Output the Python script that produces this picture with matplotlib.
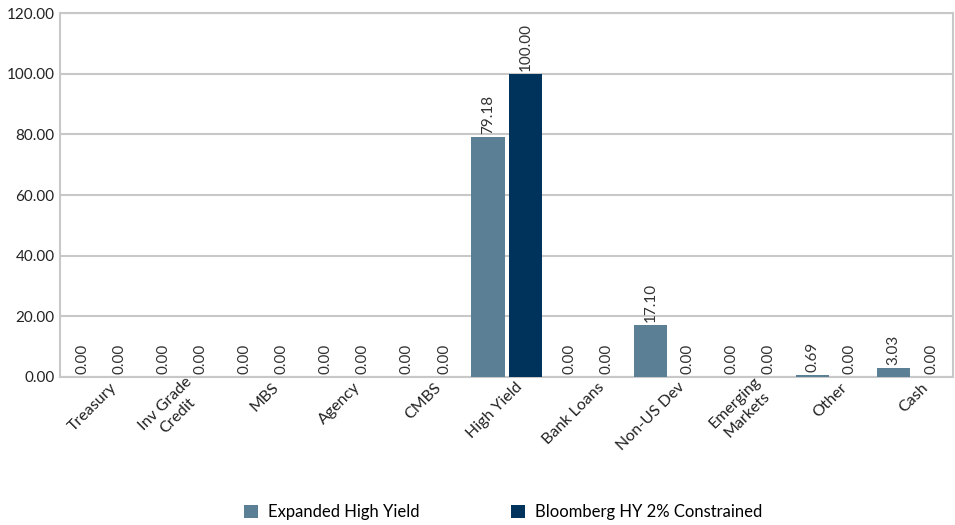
import numpy as np
import matplotlib
matplotlib.use("Agg")
import matplotlib.pyplot as plt
import matplotlib.transforms as mtransforms
from matplotlib.ticker import FormatStrFormatter

plt.rcParams["font.family"] = ["Lato", "DejaVu Sans"]

# data
categories = ["Treasury", "Inv Grade\nCredit", "MBS", "Agency", "CMBS", "High Yield",
              "Bank Loans", "Non-US Dev", "Emerging\nMarkets", "Other", "Cash"]
expanded_hy = [0.00, 0.00, 0.00, 0.00, 0.00, 79.18, 0.00, 17.10, 0.00, 0.69, 3.03]
bbg_hy = [0.00, 0.00, 0.00, 0.00, 0.00, 100.00, 0.00, 0.00, 0.00, 0.00, 0.00]
series_names = ["Expanded High Yield", "Bloomberg HY 2% Constrained"]
colors = ["#5B7F95", "#00335B"]

fig = plt.figure(figsize=(9.55, 5.25), dpi=100)
ax = fig.add_axes([0.063, 0.282, 0.935, 0.693])

x = np.arange(len(categories))
w = 0.41
off = 0.23
grid_c = "#C8C8C8"

for vals, dx, c, name in [(expanded_hy, -off, colors[0], series_names[0]),
                          (bbg_hy, off, colors[1], series_names[1])]:
    bars = ax.bar(x + dx, vals, width=w, color=c, label=name, zorder=3)
    for b, v in zip(bars, vals):
        ax.text(b.get_x() + b.get_width() / 2, v + 1.0, f"{v:.2f}", rotation=90,
                ha="center", va="bottom", fontsize=11, color="#333333", zorder=4)

ax.set_xlim(-0.5, len(categories) - 0.5)
ax.set_ylim(0, 120)
ax.set_yticks(np.arange(0, 121, 20))
ax.yaxis.set_major_formatter(FormatStrFormatter("%.2f"))
ax.grid(axis="y", color=grid_c, linewidth=1.5, zorder=0)
for s in ax.spines.values():
    s.set_color(grid_c)
    s.set_linewidth(1.5)
ax.tick_params(axis="both", length=0, labelsize=11, colors="#222222")
ax.tick_params(axis="y", pad=4)
ax.set_xticks(x)
ax.set_xticklabels(categories, rotation=45, ha="right", va="center",
                   rotation_mode="anchor", multialignment="center",
                   fontsize=11.5, linespacing=1.3)
ax.tick_params(axis="x", pad=8)
# nudge labels so their ends sit right of the group centre
shift = mtransforms.ScaledTranslation(10 / 72, 2 / 72, fig.dpi_scale_trans)
for lbl in ax.get_xticklabels():
    lbl.set_transform(lbl.get_transform() + shift)

fig.legend(loc="lower center", bbox_to_anchor=(0.527, -0.02), ncol=2, frameon=False,
           fontsize=12, handlelength=0.85, handleheight=0.85, handletextpad=0.6,
           columnspacing=5.5)

fig.savefig("out.png", dpi=100)
